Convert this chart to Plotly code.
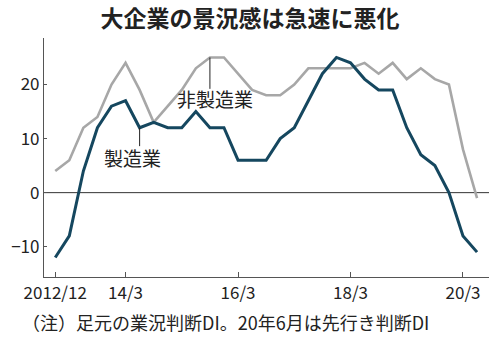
import plotly.graph_objects as go

# Tankan business conditions DI, large enterprises, quarterly 2012/12 - 2020/6 (last = forecast)
quarters = [
    "2012/12", "13/3", "13/6", "13/9", "13/12", "14/3", "14/6", "14/9", "14/12",
    "15/3", "15/6", "15/9", "15/12", "16/3", "16/6", "16/9", "16/12",
    "17/3", "17/6", "17/9", "17/12", "18/3", "18/6", "18/9", "18/12",
    "19/3", "19/6", "19/9", "19/12", "20/3", "20/6",
]
manufacturing = [
    -12, -8, 4, 12, 16, 17, 12, 13, 12, 12, 15, 12, 12, 6, 6, 6, 10,
    12, 17, 22, 25, 24, 21, 19, 19, 12, 7, 5, 0, -8, -11,
]
non_manufacturing = [
    4, 6, 12, 14, 20, 24, 19, 13, 16, 19, 23, 25, 25, 22, 19, 18, 18,
    20, 23, 23, 23, 23, 24, 22, 24, 21, 23, 21, 20, 8, -1,
]
tick_labels = ["2012/12", "14/3", "16/3", "18/3", "20/3"]
y_ticks = [-10, 0, 10, 20]

idx = list(range(len(quarters)))
tick_pos = [quarters.index(t) for t in tick_labels]

JP = "Noto Sans CJK JP"
NAVY = "#15475f"
GREY = "#a7a7a7"
INK = "#222222"

fig = go.Figure()
fig.add_trace(go.Scatter(x=idx, y=non_manufacturing, mode="lines",
                         line=dict(color=GREY, width=2.6), hoverinfo="skip"))
fig.add_trace(go.Scatter(x=idx, y=manufacturing, mode="lines",
                         line=dict(color=NAVY, width=3), hoverinfo="skip"))

# zero line across the plot
fig.add_shape(type="line", xref="paper", x0=0, x1=1, yref="y", y0=0, y1=0,
              line=dict(color="#333333", width=1), layer="below")

# series labels with short leader lines
i_mfg = quarters.index("14/6")
i_non = quarters.index("15/9")
fig.add_shape(type="line", x0=i_mfg, x1=i_mfg, y0=manufacturing[i_mfg],
              y1=manufacturing[i_mfg] - 3.4, line=dict(color=INK, width=1))
fig.add_shape(type="line", x0=i_non, x1=i_non, y0=non_manufacturing[i_non],
              y1=non_manufacturing[i_non] - 5.8, line=dict(color=INK, width=1))
fig.add_annotation(x=i_mfg, y=manufacturing[i_mfg], text="製造業", showarrow=False,
                   xshift=-7, yshift=-30, font=dict(family=JP, size=19, color=INK))
fig.add_annotation(x=i_non, y=non_manufacturing[i_non], text="非製造業", showarrow=False,
                   xshift=5, yshift=-41, font=dict(family=JP, size=19, color=INK))

fig.add_annotation(xref="paper", yref="paper", x=-0.054, y=-0.187,
                   xanchor="left", yanchor="middle", showarrow=False,
                   text="（注）足元の業況判断DI。20年6月は先行き判断DI",
                   font=dict(family=JP, size=18, color=INK))

fig.update_layout(
    width=500, height=340,
    margin=dict(l=39, r=11, t=38, b=63),
    paper_bgcolor="white", plot_bgcolor="white",
    showlegend=False,
    title=dict(text="<b>大企業の景況感は急速に悪化</b>", x=0.5, xanchor="center",
               y=1 - 19 / 340, yanchor="middle", font=dict(family=JP, size=23, color=INK)),
    xaxis=dict(range=[-0.8, 30.85], tickvals=tick_pos, ticktext=tick_labels,
               showgrid=False, zeroline=False, showline=True, linecolor="#555555",
               linewidth=1.2, ticks="inside", ticklen=5, tickcolor="#555555",
               tickfont=dict(family=JP, size=17, color=INK)),
    yaxis=dict(range=[-15.6, 28.6], tickvals=y_ticks, showgrid=False, zeroline=False,
               showline=True, linecolor="#555555", linewidth=1.2, ticks="inside",
               ticklen=3, tickcolor="#555555",
               tickfont=dict(family=JP, size=17, color=INK)),
)

fig.write_html("out.html")
